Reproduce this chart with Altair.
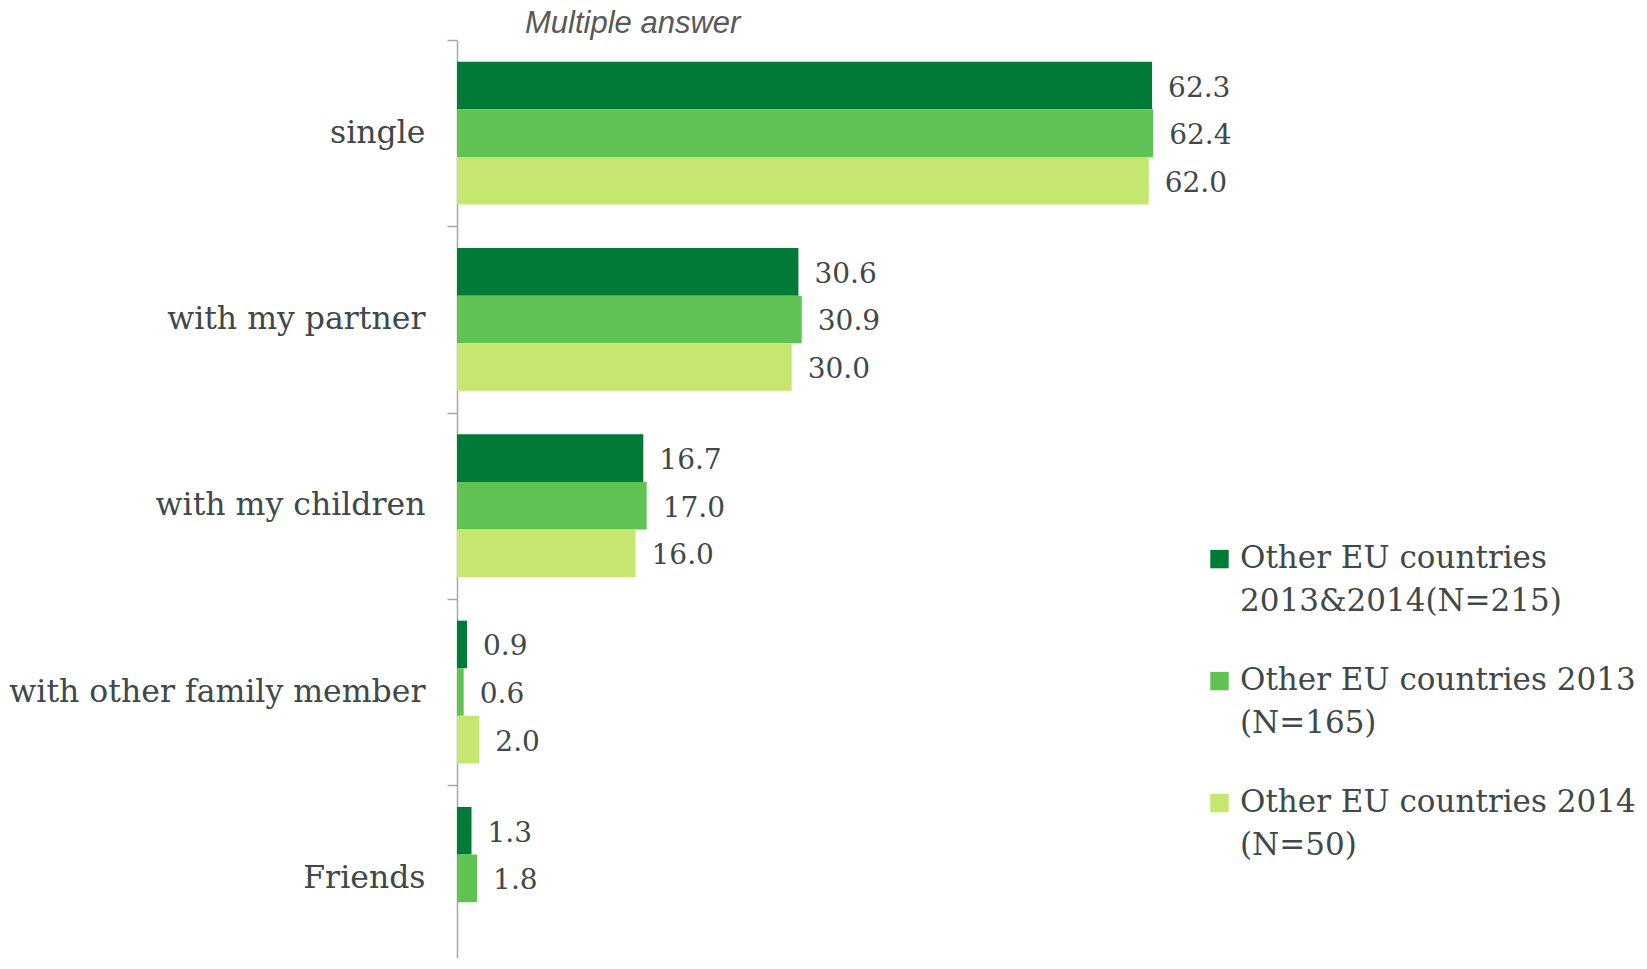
import altair as alt
import pandas as pd

categories = ["single", "with my partner", "with my children", "with other family member", "Friends"]
series = [
    "Other EU countries|2013&2014(N=215)",
    "Other EU countries 2013|(N=165)",
    "Other EU countries 2014|(N=50)",
]
values_all = [62.3, 30.6, 16.7, 0.9, 1.3]
values_2013 = [62.4, 30.9, 17.0, 0.6, 1.8]
values_2014 = [62.0, 30.0, 16.0, 2.0, None]
colors = ["#007a37", "#61c254", "#c5e76f"]

rows = []
for s, vals in zip(series, [values_all, values_2013, values_2014]):
    for c, v in zip(categories, vals):
        if v is not None:
            rows.append({"category": c, "series": s, "value": v})
df = pd.DataFrame(rows)

FONT = "DejaVu Serif"
TEXT = "#404848"

base = alt.Chart(df).encode(
    y=alt.Y(
        "category:N",
        sort=categories,
        scale=alt.Scale(paddingInner=0, paddingOuter=0, range=[0, 931.5]),
        axis=alt.Axis(
            title=None,
            domainColor="#a6a6a6",
            domainWidth=1.5,
            tickColor="#a6a6a6",
            tickWidth=1.5,
            tickSize=10,
            tickBand="extent",
            labelFont=FONT,
            labelFontSize=31.5,
            labelColor=TEXT,
            labelPadding=22,
            labelLimit=800,
        ),
    ),
    yOffset=alt.YOffset(
        "series:N", sort=series, scale=alt.Scale(paddingInner=0, paddingOuter=0.457)
    ),
)

bars = base.mark_bar().encode(
    x=alt.X("value:Q", scale=alt.Scale(domain=[0, 70]), axis=None),
    color=alt.Color(
        "series:N",
        sort=series,
        scale=alt.Scale(domain=series, range=colors),
        legend=alt.Legend(
            title=None,
            orient="none",
            legendX=747,
            legendY=488,
            direction="vertical",
            symbolType="M-1,0.69H1V2.69H-1Z",
            symbolSize=340,
            symbolStrokeWidth=0,
            symbolOpacity=1,
            labelFont=FONT,
            labelFontSize=31,
            labelColor=TEXT,
            labelLimit=1000,
            labelExpr="split(datum.label, '|')",
            labelBaseline="top",
            labelOffset=5,
            rowPadding=33,
            padding=0,
        ),
    ),
)

labels = base.mark_text(
    align="left", baseline="middle", dx=16, dy=3, font=FONT, fontSize=28, color=TEXT
).encode(
    x=alt.X("value:Q"),
    text=alt.Text("value:Q", format=".1f"),
)

chart = (
    alt.layer(bars, labels)
    .properties(
        width=781,
        height=918,
        title=alt.Title(
            "Multiple answer",
            anchor="start",
            frame="group",
            orient="top",
            dx=68,
            offset=-16,
            font="Liberation Sans",
            fontStyle="italic",
            fontWeight="normal",
            fontSize=31,
            color="#595959",
        ),
        padding={"left": 449, "top": 32, "right": 401, "bottom": 0},
        autosize="none",
    )
    .configure(style={"guide-label": {"lineHeight": 43}})
    .configure_view(stroke="transparent")
)

chart.save("out.html", embed_options={"renderer": "svg", "actions": False})
